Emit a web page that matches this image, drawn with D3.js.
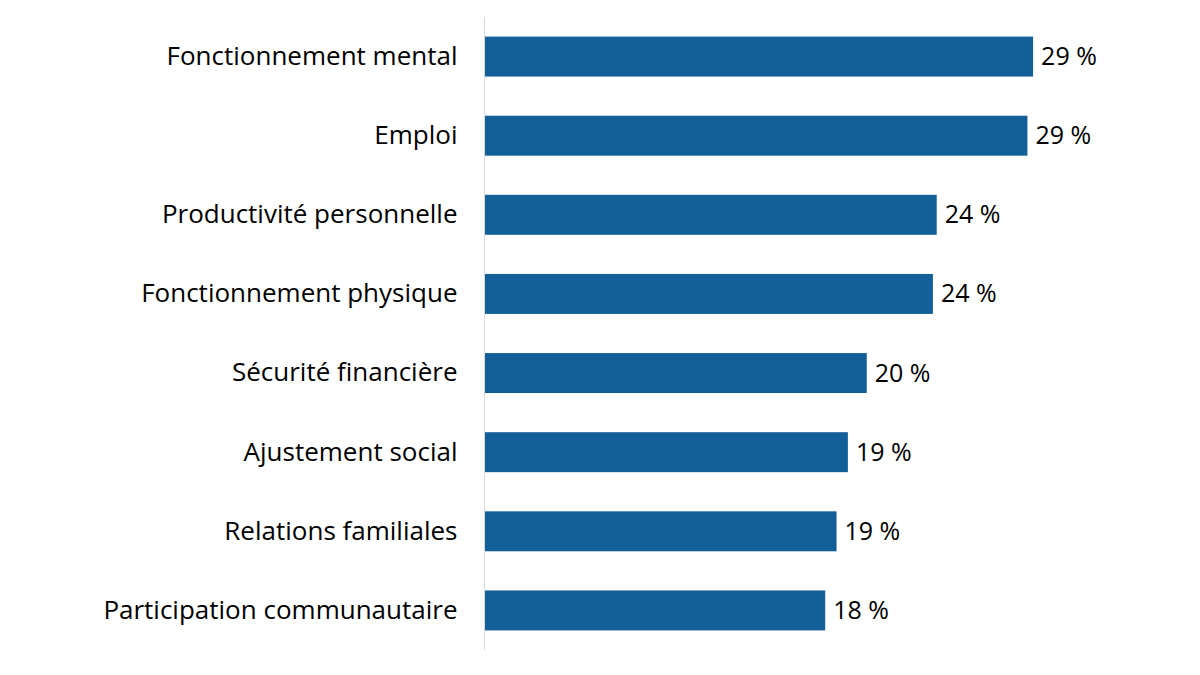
<!DOCTYPE html>
<html>
<head>
<meta charset="utf-8">
<script src="https://cdn.jsdelivr.net/npm/d3@7"></script>
<style>
	body { margin: 0; background: #fff; }
	text { font-family: "Open Sans", Lato, sans-serif; }
</style>
</head>
<body>
<svg width="1200" height="675"></svg>
<script>

const categories = [
	'Fonctionnement mental',
	'Emploi',
	'Productivité personnelle',
	'Fonctionnement physique',
	'Sécurité financière',
	'Ajustement social',
	'Relations familiales',
	'Participation communautaire'
];
const values = [29.0, 28.7, 23.9, 23.7, 20.2, 19.2, 18.6, 18.0];
const valueLabels = ['29 %', '29 %', '24 %', '24 %', '20 %', '19 %', '19 %', '18 %'];

const AXIS_X = 485;
const TOP = 17;
const BOTTOM = 650;

const data = categories.map((c, i) => ({ cat: c, value: values[i], label: valueLabels[i] }));

let svg = d3.select('svg');

let xScale = d3.scaleLinear()
	.domain([0, 30])
	.range([AXIS_X, AXIS_X + 567]);

let yScale = d3.scaleBand()
	.domain(categories)
	.range([TOP, BOTTOM])
	.paddingInner(0.495)
	.paddingOuter(0.2475);

// bars
svg.selectAll('.bar')
	.data(data)
	.enter()
	.append('rect')
	.attr('class', 'bar')
	.attr('x', xScale(0))
	.attr('y', d => yScale(d.cat))
	.attr('width', d => xScale(d.value) - xScale(0))
	.attr('height', yScale.bandwidth())
	.attr('fill', '#125f9a');

// category axis
let axis = svg.append('g')
	.attr('transform', 'translate(' + (AXIS_X - 0.5) + ',0)')
	.call(d3.axisLeft(yScale).tickSize(0).tickPadding(27));

axis.select('.domain')
	.attr('d', 'M0,' + TOP + 'V' + BOTTOM)
	.attr('stroke', '#d9d9d9');

axis.selectAll('text')
	.attr('font-size', 26)
	.attr('fill', '#000')
	.style('font-family', '"Open Sans", Lato, sans-serif');

// value labels
svg.selectAll('.val')
	.data(data)
	.enter()
	.append('text')
	.attr('class', 'val')
	.attr('x', d => xScale(d.value) + 8)
	.attr('y', d => yScale(d.cat) + yScale.bandwidth() / 2)
	.attr('dy', '0.34em')
	.attr('font-size', 25)
	.attr('fill', '#000')
	.text(d => d.label);

</script>
</body>
</html>
